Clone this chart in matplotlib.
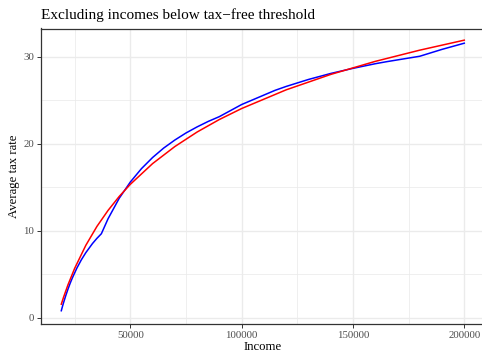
import numpy as np
import matplotlib
matplotlib.use("Agg")
import matplotlib.pyplot as plt
from matplotlib.ticker import MultipleLocator

inc_actual = [19000, 19500, 20000, 21000, 22000, 23000, 24000, 26000, 28000, 30000,
              33000, 35000, 37000, 40000, 45000, 50000, 55000, 60000, 65000, 70000,
              75000, 80000, 85000, 90000, 100000, 115000, 120000, 130000, 140000,
              150000, 160000, 165000, 180000, 190000, 200000]
rate_actual = [0.80, 1.27, 1.71, 2.53, 3.28, 3.97, 4.59, 5.70, 6.65, 7.47,
               8.52, 9.12, 9.65, 11.37, 13.72, 15.59, 17.13, 18.41, 19.50, 20.42,
               21.23, 21.93, 22.56, 23.11, 24.50, 26.13, 26.58, 27.38, 28.07,
               28.66, 29.19, 29.42, 30.05, 30.84, 31.55]

# fitted curve (red)
inc_fit = [19000, 20000, 22000, 25000, 30000, 35000, 40000, 45000, 50000, 60000,
           70000, 80000, 90000, 100000, 120000, 140000, 160000, 180000, 200000]
rate_fit = [1.55, 2.34, 3.78, 5.67, 8.31, 10.49, 12.33, 13.93, 15.33, 17.71,
            19.67, 21.34, 22.78, 24.04, 26.19, 27.96, 29.46, 30.75, 31.90]

title = "Excluding incomes below tax\u2212free threshold"
xlabel = "Income"
ylabel = "Average tax rate"

plt.rcParams['font.family'] = ['Liberation Serif', 'DejaVu Serif']

W, H = 482, 353
fig = plt.figure(figsize=(W/100, H/100), dpi=100)
ax = fig.add_axes([41/W, 1-324.3/H, 443.4/W, (324.3-28.5)/H])

ax.plot(inc_actual, rate_actual, color='blue', lw=1.1, zorder=3)
ax.plot(inc_fit, rate_fit, color='red', lw=1.1, zorder=3)

ax.set_xlim(9883, 209050)
ax.set_ylim(-0.76, 33.24)
ax.xaxis.set_major_locator(MultipleLocator(50000))
ax.xaxis.set_minor_locator(MultipleLocator(25000))
ax.yaxis.set_major_locator(MultipleLocator(10))
ax.yaxis.set_minor_locator(MultipleLocator(5))
ax.grid(True, which='major', color='#EBEBEB', lw=1.0)
ax.grid(True, which='minor', color='#EBEBEB', lw=0.55)
ax.set_axisbelow(True)
ax.tick_params(which='minor', length=0)
ax.tick_params(which='major', length=3, width=0.7, color='#333333',
               labelsize=7.8, labelcolor='#4D4D4D', pad=2)
for s in ax.spines.values():
    s.set_color('#333333')
    s.set_linewidth(0.9)

ax.set_ylabel(ylabel, fontsize=9.2, labelpad=2)
fig.text((41 + 443.4/2)/W, 0.3/H, xlabel, fontsize=9.2, ha='center', va='bottom')
fig.text(41/W, 1-19/H, title, fontsize=11, ha='left', va='baseline')

fig.savefig("out.png", dpi=100)
